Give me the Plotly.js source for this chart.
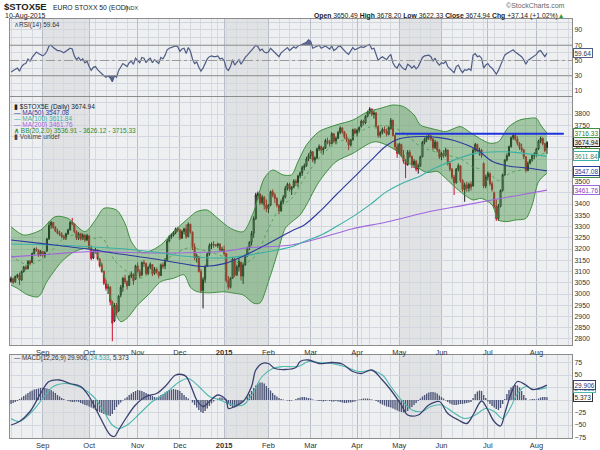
<!DOCTYPE html>
<html>
<head>
<meta charset="utf-8">
<script src="https://cdn.plot.ly/plotly-3.0.1.min.js"></script>
<style>
html, body { margin: 0; padding: 0; background: #fff; }
#chart { width: 600px; height: 450px; }
</style>
</head>
<body>
<div id="chart"></div>
<script>
// trading days: weekdays from 11 Aug 2014, exchange holidays removed
const firstDay = '2014-08-11';
const dayCount = 255;
const holidays = ['2014-12-25', '2014-12-26', '2015-01-01', '2015-04-03', '2015-04-06', '2015-05-01'];

// daily candles
const open = [
3055,3068,3055,3078,3085,3062,3100,3120,3112,3145,
3140,3180,3200,3195,3172,3188,3172,3190,3245,3305,
3318,3296,3280,3270,3265,3255,3248,3268,3285,3318,
3312,3278,3248,3268,3245,3262,3240,3258,3205,3160,
3190,3195,3155,3130,3100,3048,3025,3030,2965,2880,
2950,2925,2995,3030,3070,3055,3038,3080,3088,3065,
3125,3100,3085,3140,3135,3092,3118,3130,3092,3110,
3098,3082,3130,3125,3150,3235,3255,3262,3272,3290,
3285,3248,3278,3290,3255,3310,3275,3210,3160,3165,
3100,3015,3065,3125,3178,3215,3222,3218,3215,3222,
3195,3198,3180,3060,3030,3070,3155,3085,3120,3140,
3080,3130,3170,3205,3230,3270,3335,3440,3445,3405,
3430,3395,3380,3395,3455,3440,3425,3395,3370,3410,
3430,3470,3488,3465,3475,3502,3495,3525,3538,3562,
3570,3600,3615,3632,3595,3605,3645,3655,3640,3648,
3682,3675,3668,3712,3680,3692,3718,3738,3720,3698,
3685,3662,3685,3730,3715,3728,3745,3768,3760,3790,
3808,3822,3798,3805,3745,3705,3718,3732,3722,3710,
3735,3772,3705,3655,3625,3665,3618,3590,3575,3630,
3612,3575,3590,3555,3570,3610,3675,3688,3698,3702,
3690,3650,3675,3640,3610,3625,3615,3640,3580,3555,
3520,3495,3555,3570,3505,3465,3485,3470,3488,3480,
3640,3665,3635,3640,3580,3480,3520,3535,3490,3450,
3390,3335,3390,3460,3530,3595,3615,3655,3695,3705,
3688,3670,3650,3640,3610,3550,3582,3595,3615,3622,
3645,3680,3692,3668,3650.49];
const high = [
3078,3072,3082,3090,3095,3105,3125,3128,3150,3152,
3185,3205,3208,3198,3195,3192,3190,3250,3322,3325,
3320,3302,3290,3282,3275,3262,3272,3290,3325,3338,
3315,3282,3275,3272,3270,3265,3268,3262,3215,3195,
3205,3198,3160,3140,3105,3062,3045,3035,2970,2960,
2960,2995,3040,3075,3085,3060,3085,3100,3092,3130,
3140,3110,3145,3152,3140,3125,3140,3132,3120,3118,
3100,3135,3140,3160,3245,3262,3270,3280,3295,3298,
3290,3285,3295,3310,3318,3312,3278,3225,3180,3168,
3110,3075,3130,3185,3225,3230,3235,3222,3228,3225,
3210,3215,3182,3080,3075,3165,3160,3130,3160,3145,
3140,3175,3210,3235,3280,3345,3450,3455,3448,3440,
3435,3420,3400,3460,3465,3450,3430,3400,3420,3440,
3480,3495,3495,3480,3510,3510,3530,3545,3570,3580,
3610,3625,3640,3635,3612,3650,3665,3660,3655,3690,
3695,3685,3720,3715,3700,3725,3745,3742,3725,3712,
3690,3690,3735,3738,3735,3745,3775,3775,3795,3815,
3830,3825,3815,3808,3750,3725,3740,3745,3735,3745,
3782,3775,3708,3670,3672,3668,3640,3600,3640,3640,
3615,3600,3595,3580,3615,3680,3695,3705,3712,3708,
3692,3685,3678,3645,3632,3640,3650,3642,3590,3560,
3530,3560,3580,3572,3510,3495,3498,3495,3500,3650,
3672,3668,3650,3645,3585,3530,3545,3540,3500,3455,
3420,3400,3465,3535,3600,3625,3660,3700,3715,3712,
3700,3675,3668,3645,3612,3590,3600,3620,3630,3650,
3685,3700,3695,3672,3678.20];
const low = [
3050,3045,3050,3070,3040,3058,3095,3105,3110,3128,
3138,3175,3188,3165,3168,3165,3160,3188,3240,3290,
3290,3275,3265,3258,3248,3240,3240,3262,3282,3305,
3270,3240,3240,3238,3240,3232,3235,3200,3150,3155,
3180,3150,3118,3095,3040,3015,3000,2950,2790,2875,
2905,2920,2985,3010,3045,3020,3035,3070,3040,3062,
3095,3070,3080,3120,3085,3085,3110,3080,3085,3090,
3070,3080,3112,3110,3148,3230,3245,3255,3265,3275,
3240,3245,3265,3245,3252,3268,3195,3150,3140,3095,
3005,2936,3050,3120,3170,3200,3205,3210,3205,3190,
3188,3170,3050,3020,3025,3068,3075,3080,3100,3060,
3045,3125,3165,3195,3215,3250,3330,3420,3395,3398,
3375,3365,3360,3390,3430,3405,3385,3355,3365,3400,
3425,3460,3455,3440,3470,3480,3475,3515,3525,3550,
3565,3590,3600,3585,3580,3600,3635,3625,3620,3645,
3665,3655,3665,3670,3665,3688,3710,3712,3690,3675,
3640,3655,3682,3710,3700,3720,3740,3750,3755,3785,
3800,3790,3780,3735,3695,3695,3710,3715,3700,3705,
3730,3700,3640,3605,3620,3610,3580,3515,3570,3605,
3560,3560,3545,3535,3565,3608,3665,3675,3685,3680,
3640,3645,3630,3600,3595,3605,3610,3570,3545,3510,
3440,3490,3545,3495,3455,3410,3455,3455,3460,3478,
3630,3630,3615,3605,3470,3470,3505,3480,3455,3380,
3325,3325,3385,3455,3525,3590,3610,3650,3685,3680,
3660,3640,3630,3600,3540,3545,3575,3588,3600,3610,
3640,3670,3660,3630,3622.33];
const close = [
3070,3052,3078,3085,3062,3100,3120,3112,3145,3135,
3180,3200,3195,3172,3190,3172,3185,3245,3305,3318,
3296,3280,3270,3265,3255,3248,3268,3285,3318,3312,
3278,3248,3268,3245,3262,3240,3260,3205,3158,3190,
3195,3155,3125,3100,3048,3025,3032,2965,2870,2950,
2915,2990,3030,3070,3055,3035,3080,3088,3058,3125,
3100,3080,3140,3135,3090,3118,3132,3090,3110,3098,
3082,3130,3122,3150,3235,3255,3262,3272,3290,3285,
3248,3278,3290,3255,3310,3275,3210,3160,3170,3100,
3015,3065,3120,3178,3215,3222,3218,3215,3222,3195,
3198,3180,3060,3030,3070,3155,3085,3120,3145,3080,
3130,3170,3205,3230,3270,3335,3440,3445,3405,3430,
3395,3380,3395,3455,3440,3425,3395,3370,3410,3430,
3470,3488,3465,3475,3502,3495,3525,3538,3562,3570,
3600,3615,3632,3595,3605,3645,3655,3640,3648,3682,
3675,3668,3712,3680,3692,3718,3738,3720,3698,3685,
3662,3685,3730,3715,3728,3740,3768,3760,3790,3808,
3822,3798,3805,3745,3705,3718,3732,3722,3710,3740,
3772,3705,3655,3625,3665,3618,3590,3575,3630,3612,
3575,3590,3555,3570,3610,3675,3688,3698,3702,3690,
3650,3675,3640,3610,3625,3615,3640,3580,3555,3520,
3495,3555,3570,3505,3465,3485,3470,3488,3475,3640,
3665,3635,3640,3615,3480,3520,3535,3490,3465,3390,
3335,3390,3460,3530,3595,3615,3655,3695,3705,3688,
3670,3650,3640,3610,3550,3582,3595,3615,3622,3645,
3680,3692,3668,3637.80,3674.94];

// overlay lines, sampled at trading-day indexes
const ma50Idx = [0,14,36,50,65,80,91,101,110,120,133,139,147,154,162,170,178,184,194,203,210,221,228,235,245,254];
const ma50Val = [3240,3225,3200,3180,3160,3137,3122,3135,3168,3215,3280,3307,3373,3440,3514,3588,3660,3690,3700,3695,3682,3640,3590,3570,3560,3547.08];
const ma100Idx = [0,36,67,80,101,120,133,139,147,154,162,170,178,186,194,199,210,220,235,254];
const ma100Val = [3222,3211,3188,3170,3160,3185,3210,3233,3262,3299,3344,3396,3455,3495,3525,3551,3595,3625,3632,3611.84];
const ma200Idx = [0,20,36,67,101,112,133,147,162,178,199,215,228,240,254];
const ma200Val = [3165,3178,3188,3182,3190,3205,3218,3250,3290,3320,3368,3395,3418,3438,3461.76];

const bbUpIdx = [0,6,14,21,27,35,40,44,50,54,57,61,65,71,77,84,88,93,98,104,110,115,120,124,129,133,136,140,146,154,162,169,175,181,186,191,194,199,202,206,213,217,222,227,231,236,241,246,249,251,254];
const bbUpVal = [3299,3262,3284,3344,3336,3277,3329,3381,3373,3314,3233,3188,3188,3218,3277,3336,3366,3373,3336,3292,3277,3366,3514,3551,3529,3530,3588,3662,3722,3751,3773,3810,3825,3840,3833,3796,3751,3736,3729,3722,3744,3722,3692,3670,3677,3744,3773,3781,3781,3751,3715.33];
const bbLoIdx = [0,3,8,13,17,24,30,36,40,43,46,49,52,55,60,65,71,77,82,85,88,94,101,106,110,115,118,122,126,130,133,137,140,146,154,162,170,173,178,183,187,192,197,202,206,211,216,219,223,228,231,235,239,244,247,250,254];
const bbLoVal = [3040,3025,2996,2988,3055,3144,3188,3203,3188,3114,3025,2922,2877,2892,2951,2996,3055,3070,3085,3030,3011,3005,3010,3003,2996,2959,2960,3055,3173,3292,3320,3351,3396,3499,3588,3625,3670,3677,3662,3633,3588,3566,3540,3545,3514,3470,3433,3418,3425,3396,3329,3322,3329,3336,3396,3499,3536.91];
const bbMidIdx = [0,8,17,24,30,36,43,49,55,61,67,77,84,93,101,110,116,122,128,133,140,147,154,162,169,175,181,187,194,199,206,213,219,225,231,237,243,249,254];
const bbMidVal = [3170,3130,3170,3240,3262,3240,3250,3150,3100,3070,3100,3175,3205,3190,3165,3136,3170,3292,3390,3425,3529,3615,3670,3699,3739,3748,3742,3710,3655,3638,3618,3602,3564,3550,3505,3540,3556,3615,3626.12];

const resistance = 3712;

// RSI(14), daily
const rsi = [
35,37,38,40,36,42,45,46,52,49, 54,58,61,59,57,56,58,62,69,70,
67,65,63,63,62,60,62,64,66,65, 56,51,54,50,52,47,49,42,37,41,
42,38,35,33,30,28,30,27,22,30, 28,37,42,46,44,42,47,49,45,53,
50,47,54,53,47,51,53,47,51,49, 46,54,52,57,64,66,67,68,69,68,
62,65,66,59,67,62,52,46,48,41, 36,40,46,52,55,56,55,55,56,52,
53,50,40,37,42,51,44,48,51,45, 50,54,57,60,63,67,70,68,63,65,
61,60,61,66,63,61,58,55,60,62, 65,67,63,65,68,66,69,70,71,72,
74,77,75,66,67,69,70,66,67,69, 67,65,69,63,65,68,69,66,62,60,
58,62,67,64,65,66,68,67,69,70, 71,65,66,57,50,53,55,53,51,55,
58,47,42,40,46,42,39,38,45,43, 40,43,39,42,47,54,56,57,57,55,
49,53,47,44,47,46,49,42,39,36, 34,42,44,38,34,38,37,39,37,57,
59,55,56,53,40,44,46,42,40,36, 32,37,44,51,57,59,61,63,64,61,
59,56,55,51,45,50,52,55,56,58, 62,63,59,55,59.64];
const obIdx = [137,138,139,140,141,142,143];
const obVal = [70,71,72,74,77,75,70];
const osIdx = [46,47,48,49];
const osVal = [30,27,22,30];

// MACD(12,26,9)
const macdIdx = [0,4,9,14,18,23,28,33,37,42,47,49,51,55,59,64,69,73,78,81,83,86,88,91,94,98,102,103,106,110,114,116,119,122,125,130,135,137,141,146,152,157,162,166,171,176,180,185,188,193,198,203,207,212,216,219,223,226,229,232,234,237,240,244,247,250,254];
const macdVal = [-50,-43,-23,13,37,40,33,27,7,-33,-70,-73,-60,-33,-10,7,13,27,50,51,47,20,0,-13,-3,10,0,-17,-13,-3,27,60,73,73,63,61,65,77,80,73,75,72,57,53,60,40,20,-10,-30,-30,-10,-3,-27,-40,-47,-30,-2,-20,-43,-52,-27,13,37,30,21,23,29.906];
const signalIdx = [0,4,10,15,20,25,29,34,39,44,48,51,55,61,67,73,80,84,89,94,99,105,110,114,119,124,129,136,141,146,152,158,165,171,176,180,185,190,195,199,204,209,215,220,225,229,233,237,240,244,248,254];
const signalVal = [-37,-43,-23,3,27,33,31,23,7,-23,-50,-57,-50,-27,-3,13,37,43,27,7,0,-10,-10,10,47,63,67,67,77,75,73,67,57,59,50,27,0,-20,-23,-13,-10,-23,-37,-30,-17,-23,-37,-13,13,27,21,24.533];
const histogram = [
-8,-6,-4,-2,2,5,8,11,14,17, 19,21,22,23,24,25,24,23,22,20,
17,14,10,7,4,2,0,-2,-3,-4, -4,-3,-4,-6,-8,-10,-11,-13,-15,-17,
-20,-22,-24,-26,-28,-30,-31,-32,-28,-20, -14,-9,-5,-1,3,6,10,13,16,18,
20,19,18,16,14,12,10,8,6,5, 7,10,12,15,18,20,21,22,21,20,
18,14,10,6,3,0,-5,-10,-15,-20, -24,-26,-22,-17,-12,-7,-3,0,3,5,
5,3,-3,-8,-12,-14,-15,-13,-10,-6, -3,0,6,12,18,24,29,33,35,35,
33,28,24,19,14,10,7,4,2,1, 0,-1,-2,-1,0,2,4,5,6,6,
5,4,3,1,0,-1,-2,-2,-3,-2, -1,-2,-3,-3,-2,-3,-4,-5,-6,-6,
-5,-5,-4,-3,-1,1,2,3,3,3, 2,1,0,-2,-4,-7,-9,-11,-13,-14,
-15,-17,-19,-21,-23,-24,-25,-24,-22,-18, -14,-10,-6,-2,3,7,10,13,15,16,
16,15,13,9,6,3,-1,-4,-7,-9, -10,-10,-9,-8,-8,-7,-6,-5,-4,4,
12,17,19,18,10,4,-3,-8,-12,-15, -18,-20,-16,-8,2,12,20,25,28,30,
29,25,18,10,4,0,1,2,2,1, 3,5,6,6,5.373];

// axis labels
const monthTicks = ['2014-09-01','2014-10-01','2014-11-03','2014-12-01','2015-01-02','2015-02-02','2015-03-02','2015-04-01','2015-05-04','2015-06-01','2015-07-01','2015-08-03'];
const monthText = ['Sep','Oct','Nov','Dec','<b>2015</b>','Feb','Mar','Apr','May','Jun','Jul','Aug'];
const shadedMonths = [['2014-09-01','2014-10-01'], ['2015-01-02','2015-02-02'], ['2015-05-04','2015-06-01']];

function tradingDays(start, n) {
  const out = [];
  const d = new Date(start + 'T00:00:00Z');
  while (out.length < n) {
    const wd = d.getUTCDay();
    const s = d.toISOString().slice(0, 10);
    if (wd !== 0 && wd !== 6 && !holidays.includes(s)) out.push(s);
    d.setUTCDate(d.getUTCDate() + 1);
  }
  return out;
}
const dates = tradingDays(firstDay, dayCount);
const at = idx => idx.map(i => dates[i]);

const W = 600, H = 450;
const px = x => x / W;
const py = y => 1 - y / H;
const FONT = 'Liberation Sans, Arial, sans-serif';

const C = {
  ma50: '#2d3a9e', ma100: '#3cb0a6', ma200: '#a066dc',
  bb: '#3f8f3f', bbFill: 'rgba(50,140,50,0.40)',
  up: '#1a1a1a', down: '#d0102a',
  rsi: '#4f5d86', macd: '#3a4070', signal: '#4fb8ae', hist: '#4d5577'
};

const traces = [
  // Bollinger band
  { x: at(bbLoIdx), y: bbLoVal, xaxis: 'x2', yaxis: 'y2', mode: 'lines',
    line: { color: C.bb, width: 1, shape: 'spline', smoothing: 0.8 } },
  { x: at(bbUpIdx), y: bbUpVal, xaxis: 'x2', yaxis: 'y2', mode: 'lines', fill: 'tonexty', fillcolor: C.bbFill,
    line: { color: C.bb, width: 1, shape: 'spline', smoothing: 0.8 } },
  { x: at(bbMidIdx), y: bbMidVal, xaxis: 'x2', yaxis: 'y2', mode: 'lines',
    line: { color: '#4a9a4a', width: 0.8, dash: 'dot', shape: 'spline', smoothing: 0.8 } },
  // moving averages
  { x: at(ma200Idx), y: ma200Val, xaxis: 'x2', yaxis: 'y2', mode: 'lines',
    line: { color: C.ma200, width: 1.1, shape: 'spline' } },
  { x: at(ma100Idx), y: ma100Val, xaxis: 'x2', yaxis: 'y2', mode: 'lines',
    line: { color: C.ma100, width: 1.1, shape: 'spline' } },
  { x: at(ma50Idx), y: ma50Val, xaxis: 'x2', yaxis: 'y2', mode: 'lines',
    line: { color: C.ma50, width: 1.1, shape: 'spline' } },
  // price
  { type: 'candlestick', x: dates, open: open, high: high, low: low, close: close,
    xaxis: 'x2', yaxis: 'y2', whiskerwidth: 0,
    increasing: { line: { color: C.up, width: 1 }, fillcolor: '#f4f4f4' },
    decreasing: { line: { color: C.down, width: 1 }, fillcolor: C.down } },
  // RSI
  { x: at(obIdx).concat(at(obIdx).reverse()), y: obVal.concat(obIdx.map(() => 70)),
    xaxis: 'x3', yaxis: 'y3', mode: 'lines', fill: 'toself', fillcolor: '#5d6a8c', line: { width: 0 } },
  { x: at(osIdx).concat(at(osIdx).reverse()), y: osVal.concat(osIdx.map(() => 30)),
    xaxis: 'x3', yaxis: 'y3', mode: 'lines', fill: 'toself', fillcolor: '#5d6a8c', line: { width: 0 } },
  { x: dates, y: rsi, xaxis: 'x3', yaxis: 'y3', mode: 'lines', line: { color: C.rsi, width: 1.2 } },
  // MACD
  { type: 'bar', x: dates, y: histogram, xaxis: 'x', yaxis: 'y', marker: { color: C.hist, line: { width: 0 } } },
  { x: at(signalIdx), y: signalVal, xaxis: 'x', yaxis: 'y', mode: 'lines',
    line: { color: C.signal, width: 1.1, shape: 'spline' } },
  { x: at(macdIdx), y: macdVal, xaxis: 'x', yaxis: 'y', mode: 'lines',
    line: { color: C.macd, width: 1.3, shape: 'spline' } }
];
traces.forEach(t => { t.showlegend = false; t.hoverinfo = 'skip'; });

const xDomain = [px(10), px(572)];
const xBase = {
  type: 'date', domain: xDomain,
  range: ['2014-08-08 12:00', '2015-08-25 21:00'],
  rangebreaks: [{ pattern: 'day of week', bounds: [6, 1] }, { values: holidays }],
  rangeslider: { visible: false },
  tickmode: 'array', tickvals: monthTicks, ticktext: monthText,
  ticks: '', tickfont: { size: 7.5, color: '#333' },
  showgrid: true, gridcolor: '#b9bdc8', gridwidth: 1,
  minor: { dtick: 604800000, tick0: '2014-08-11', showgrid: true, gridcolor: '#d6d9e0', gridwidth: 1 },
  showline: true, mirror: true, linecolor: '#8c8c8c', linewidth: 1, zeroline: false
};
const yBase = {
  side: 'right', ticks: '', tickfont: { size: 7, color: '#333' },
  showgrid: true, gridcolor: '#d3d6de', gridwidth: 1, zeroline: false,
  showline: true, mirror: true, linecolor: '#8c8c8c', linewidth: 1
};

const shapes = [];
[['x', 'y domain'], ['x2', 'y2 domain'], ['x3', 'y3 domain']].forEach(([xr, yr]) => {
  shadedMonths.forEach(([a, b]) => shapes.push({
    type: 'rect', xref: xr, yref: yr, x0: a, x1: b, y0: 0, y1: 1,
    fillcolor: 'rgba(0,0,0,0.05)', line: { width: 0 }, layer: 'below'
  }));
});
shapes.push(
  { type: 'line', xref: 'x3 domain', yref: 'y3', x0: 0, x1: 1, y0: 70, y1: 70, line: { color: '#8f8f8f', width: 1 } },
  { type: 'line', xref: 'x3 domain', yref: 'y3', x0: 0, x1: 1, y0: 30, y1: 30, line: { color: '#8f8f8f', width: 1 } },
  { type: 'line', xref: 'x3 domain', yref: 'y3', x0: 0, x1: 1, y0: 50, y1: 50, line: { color: '#9a9a9a', width: 1, dash: 'dashdot' } },
  { type: 'line', xref: 'x2', yref: 'y2', x0: '2015-04-29', x1: '2015-08-20', y0: resistance, y1: resistance,
    line: { color: '#1f33dd', width: 2 } }
);

const txt = (x, y, text, size, color, extra) => Object.assign({
  xref: 'paper', yref: 'paper', x: px(x), y: py(y), text: text, showarrow: false,
  xanchor: 'left', yanchor: 'middle', font: { family: FONT, size: size, color: color || '#222' }
}, extra || {});
const box = (yref, value, label, border, color, bg) => ({
  xref: 'paper', yref: yref, x: px(573), y: value, text: label, showarrow: false,
  xanchor: 'left', yanchor: 'middle', font: { family: FONT, size: 6.5, color: color },
  bgcolor: bg || '#ffffff', bordercolor: border, borderwidth: 1, borderpad: 0.5
});

const annotations = [
  txt(2, 7, '<b>$STOX5E</b>', 9.5, '#222'),
  txt(51, 7.5, 'EURO STOXX 50 (EOD)', 6.8, '#222'),
  txt(123, 8, 'INDX', 5.5, '#333'),
  txt(3, 16, '10-Aug-2015', 7, '#222'),
  txt(567, 6, '©StockCharts.com', 7, '#666', { xanchor: 'right' }),
  txt(567, 16, '<b>Open</b> 3650.49 <b>High</b> 3678.20 <b>Low</b> 3622.33 <b>Close</b> 3674.94 <b>Chg</b> +37.14 (+1.02%)<span style="color:#2e9a2e">▲</span>', 6.8, '#222', { xanchor: 'right' }),
  txt(12, 25, '<span style="color:#4f5d86">∧</span>RSI(14) 59.64', 6.5, '#333'),
  txt(12, 106.7, '▮ $STOX5E (Daily) 3674.94', 6.5, '#222'),
  txt(12, 112.7, '— MA(50) 3547.08', 6.5, C.ma50),
  txt(12, 118.7, '— MA(100) 3611.84', 6.5, C.ma100),
  txt(12, 124.7, '— MA(200) 3461.76', 6.5, C.ma200),
  txt(12, 130.7, '<b>∧</b> BB(20,2.0) 3536.91 - 3626.12 - 3715.33', 6.5, '#2e8a2e'),
  txt(12, 136.7, '▮ Volume undef', 6.5, '#444'),
  txt(12, 358, '<span style="color:#3a4070">—</span> MACD(12,26,9) 29.906, <span style="color:#3aa8a0">24.533</span>, 5.373', 6.3, '#333'),
  box('y2', 3536.91, '3536.91', C.bb, '#2e7a2e'),
  box('y2', 3626.12, '3626.12', C.bb, '#2e7a2e'),
  box('y2', 3461.76, '3461.76', C.ma200, '#7a45b8'),
  box('y2', 3547.08, '3547.08', C.ma50, '#2d3a9e'),
  box('y2', 3611.84, '3611.84', C.ma100, '#268a80'),
  box('y2', 3674.94, '3674.94', '#222', '#111', '#ececec'),
  box('y2', 3716.33, '3716.33', C.bb, '#2e7a2e'),
  box('y3', 59.64, '59.64', C.rsi, '#333'),
  box('y', 5.373, '5.373', '#333', '#222'),
  box('y', 24.533, '24.533', C.signal, '#268a80'),
  box('y', 29.906, '29.906', C.macd, '#2d3470')
];

const layout = {
  width: W, height: H,
  margin: { l: 0, r: 0, t: 0, b: 0 },
  paper_bgcolor: '#ffffff', plot_bgcolor: '#eeeff1',
  font: { family: FONT, size: 7.5, color: '#333' },
  showlegend: false, bargap: 0.35,
  xaxis: Object.assign({}, xBase, { anchor: 'y' }),
  xaxis2: Object.assign({}, xBase, { anchor: 'y2', matches: 'x' }),
  xaxis3: Object.assign({}, xBase, { anchor: 'y3', matches: 'x', showticklabels: false }),
  yaxis: Object.assign({}, yBase, {
    domain: [py(438), py(355)], range: [-76, 90],
    tickmode: 'array', tickvals: [-75, -50, -25, 0, 25, 50, 75]
  }),
  yaxis2: Object.assign({}, yBase, {
    domain: [py(345), py(97)], range: [2773.3, 3875.6],
    tickmode: 'array', tickvals: [2800,2850,2900,2950,3000,3050,3100,3150,3200,3250,3300,3350,3400,3450,3500,3550,3600,3650,3700,3750,3800],
    minor: { tickvals: [3850], showgrid: true, gridcolor: '#d3d6de' }
  }),
  yaxis3: Object.assign({}, yBase, {
    domain: [py(96), py(19)], range: [3.4, 104.4],
    tickmode: 'array', tickvals: [10, 30, 50, 70, 90],
    minor: { tickvals: [20, 40, 60, 80, 100], showgrid: true, gridcolor: '#d3d6de' }
  }),
  shapes: shapes,
  annotations: annotations
};

Plotly.newPlot('chart', traces, layout, { staticPlot: true, displayModeBar: false });
</script>
</body>
</html>
